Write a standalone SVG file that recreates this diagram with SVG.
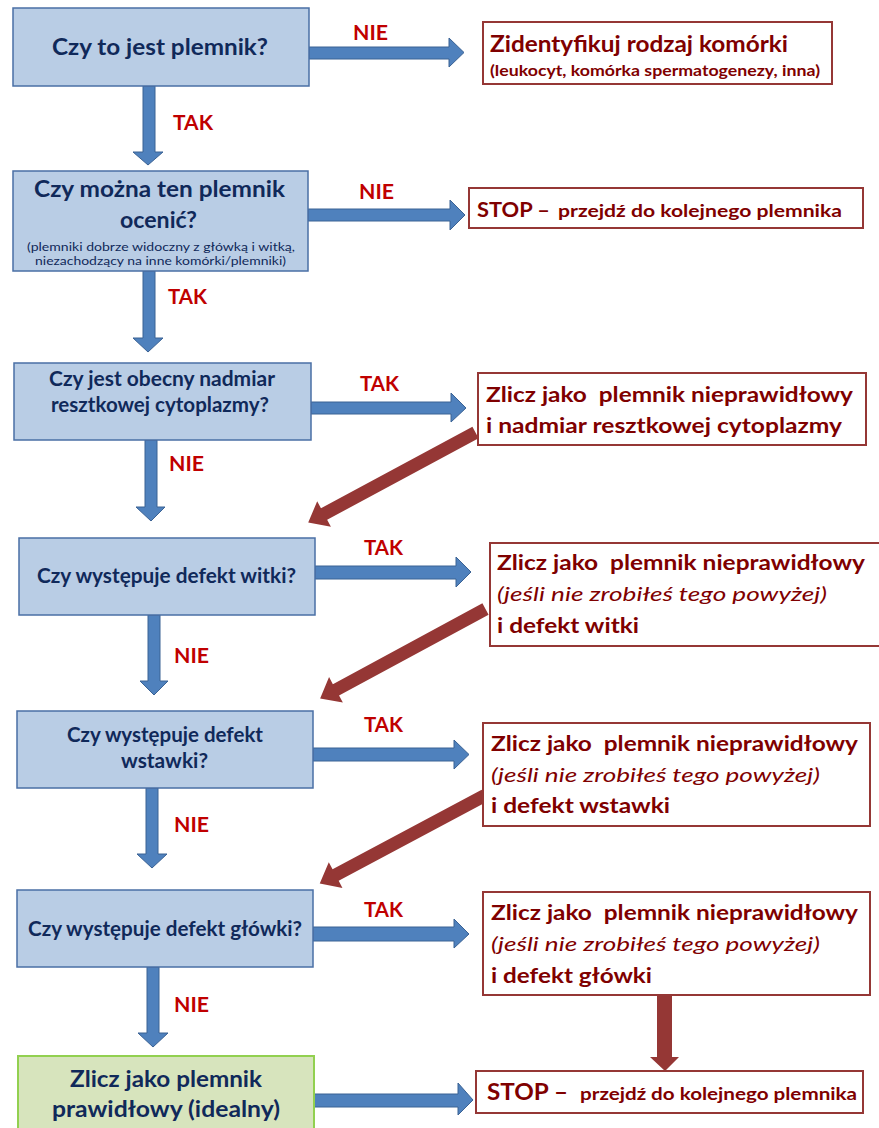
<svg xmlns="http://www.w3.org/2000/svg" width="879" height="1128" viewBox="0 0 879 1128">
  <style>
    .q { fill: #b9cde5; stroke: #4a6fa5; stroke-width: 1.5; }
    .ok { fill: #d7e4bd; stroke: #92d050; stroke-width: 2; }
    .act { fill: #ffffff; stroke: #953735; stroke-width: 2; }
    .qt { font-family: Lato, "Open Sans", sans-serif; font-weight: bold; fill: #10295a; }
    .qs { font-family: Lato, "Open Sans", sans-serif; font-size: 11.5px; fill: #10295a; }
    .at { font-family: Lato, "Open Sans", sans-serif; font-weight: bold; fill: #7f0000; font-size: 21px; white-space: pre; }
    .ai { font-family: Lato, "Open Sans", sans-serif; font-style: italic; fill: #7f0000; font-size: 20px; }
    .lb { font-family: Lato, "Open Sans", sans-serif; font-weight: bold; fill: #c00000; font-size: 21px; }
    .ba { fill: #4f81bd; stroke: #3a6294; stroke-width: 1; stroke-linejoin: miter; }
    .ra { fill: #953735; }
  </style>

  <!-- connectors -->
  <g id="connectors">
    <!-- vertical blue arrows (main path) -->
    <polygon class="ba" points="143,86 155,86 155,152 163,152 148,165 133,152 143,152"/>
    <polygon class="ba" points="143,271 155,271 155,338 163,338 148,352 133,338 143,338"/>
    <polygon class="ba" points="145,440 157,440 157,507 165,507 151,521 136,507 145,507"/>
    <polygon class="ba" points="148,615 160,615 160,681 168,681 154,695 140,681 148,681"/>
    <polygon class="ba" points="146,788 158,788 158,854 167,854 152,868 137,854 146,854"/>
    <polygon class="ba" points="147,967 159,967 159,1033 168,1033 153,1047 138,1033 147,1033"/>
    <!-- horizontal blue arrows (branches) -->
    <polygon class="ba" points="309,47 449,47 449,38 464,52.5 449,67 449,59 309,59"/>
    <polygon class="ba" points="308,209 450,209 450,200 465,215 450,230 450,221 308,221"/>
    <polygon class="ba" points="311,402 451,402 451,393 466,408 451,422 451,414 311,414"/>
    <polygon class="ba" points="315,566 456,566 456,557 471,572 456,587 456,579 315,579"/>
    <polygon class="ba" points="313,748 454,748 454,740 469,754.5 454,769 454,761 313,761"/>
    <polygon class="ba" points="313,927 454,927 454,919 469,934 454,948 454,941 313,941"/>
    <polygon class="ba" points="314,1094 458,1094 458,1083 473,1100 458,1115 458,1107 314,1107"/>
    <!-- diagonal red return arrows -->
    <path class="ra" transform="translate(475.5,432.5) rotate(151.7)" d="M0,-6.5 L172,-6.5 L172,-14.5 L190,0 L172,14.5 L172,6.5 L0,6.5 Z"/>
    <path class="ra" transform="translate(485.5,609) rotate(151.6)" d="M0,-6.5 L170,-6.5 L170,-14.5 L188,0 L170,14.5 L170,6.5 L0,6.5 Z"/>
    <path class="ra" transform="translate(484.7,795.5) rotate(151.9)" d="M0,-6.5 L169,-6.5 L169,-14.5 L187,0 L169,14.5 L169,6.5 L0,6.5 Z"/>
    <!-- vertical red arrow to STOP -->
    <polygon class="ra" points="657,996 672,996 672,1057 679,1057 665,1071 650,1057 657,1057"/>
  </g>

  <!-- branch labels -->
  <g id="labels">
    <text class="lb" x="353" y="40" textLength="35" lengthAdjust="spacingAndGlyphs">NIE</text>
    <text class="lb" x="173" y="130" textLength="40" lengthAdjust="spacingAndGlyphs">TAK</text>
    <text class="lb" x="359" y="199" textLength="35" lengthAdjust="spacingAndGlyphs">NIE</text>
    <text class="lb" x="168" y="304" textLength="39" lengthAdjust="spacingAndGlyphs">TAK</text>
    <text class="lb" x="360" y="391" textLength="39" lengthAdjust="spacingAndGlyphs">TAK</text>
    <text class="lb" x="169" y="471" textLength="35" lengthAdjust="spacingAndGlyphs">NIE</text>
    <text class="lb" x="364" y="555" textLength="39" lengthAdjust="spacingAndGlyphs">TAK</text>
    <text class="lb" x="174" y="663" textLength="35" lengthAdjust="spacingAndGlyphs">NIE</text>
    <text class="lb" x="364" y="732" textLength="39" lengthAdjust="spacingAndGlyphs">TAK</text>
    <text class="lb" x="174" y="832" textLength="35" lengthAdjust="spacingAndGlyphs">NIE</text>
    <text class="lb" x="364" y="917" textLength="39" lengthAdjust="spacingAndGlyphs">TAK</text>
    <text class="lb" x="174" y="1012" textLength="35" lengthAdjust="spacingAndGlyphs">NIE</text>
  </g>

  <!-- question nodes -->
  <g id="q-plemnik">
    <rect class="q" x="13" y="8" width="296" height="78"/>
    <text class="qt" x="52" y="55" font-size="22" textLength="216" lengthAdjust="spacingAndGlyphs">Czy to jest plemnik?</text>
  </g>
  <g id="q-ocenic">
    <rect class="q" x="13" y="171" width="295" height="100"/>
    <text class="qt" x="34" y="197" font-size="22" textLength="251" lengthAdjust="spacingAndGlyphs">Czy można ten plemnik</text>
    <text class="qt" x="120" y="228" font-size="22" textLength="77" lengthAdjust="spacingAndGlyphs">ocenić?</text>
    <text class="qs" x="27" y="251" textLength="268" lengthAdjust="spacingAndGlyphs">(plemniki dobrze widoczny z główką i witką,</text>
    <text class="qs" x="35" y="265" textLength="251" lengthAdjust="spacingAndGlyphs">niezachodzący na inne komórki/plemniki)</text>
  </g>
  <g id="q-cytoplazma">
    <rect class="q" x="14" y="363" width="297" height="77"/>
    <text class="qt" x="49" y="386" font-size="20" textLength="226" lengthAdjust="spacingAndGlyphs">Czy jest obecny nadmiar</text>
    <text class="qt" x="51" y="412" font-size="20" textLength="218" lengthAdjust="spacingAndGlyphs">resztkowej cytoplazmy?</text>
  </g>
  <g id="q-witka">
    <rect class="q" x="19" y="538" width="296" height="77"/>
    <text class="qt" x="37" y="583" font-size="20" textLength="259" lengthAdjust="spacingAndGlyphs">Czy występuje defekt witki?</text>
  </g>
  <g id="q-wstawka">
    <rect class="q" x="17" y="711" width="296" height="77"/>
    <text class="qt" x="67" y="742" font-size="20" textLength="196" lengthAdjust="spacingAndGlyphs">Czy występuje defekt</text>
    <text class="qt" x="121" y="768" font-size="20" textLength="87" lengthAdjust="spacingAndGlyphs">wstawki?</text>
  </g>
  <g id="q-glowka">
    <rect class="q" x="17" y="890" width="296" height="77"/>
    <text class="qt" x="28" y="936" font-size="20" textLength="274" lengthAdjust="spacingAndGlyphs">Czy występuje defekt główki?</text>
  </g>
  <g id="ok-prawidlowy">
    <rect class="ok" x="18" y="1056" width="296" height="80"/>
    <text class="qt" x="70" y="1087" font-size="22" textLength="192" lengthAdjust="spacingAndGlyphs">Zlicz jako plemnik</text>
    <text class="qt" x="52" y="1117" font-size="22" textLength="228" lengthAdjust="spacingAndGlyphs">prawidłowy (idealny)</text>
  </g>

  <!-- action nodes -->
  <g id="a-identyfikuj">
    <rect class="act" x="483" y="22" width="349" height="62"/>
    <text class="at" x="490" y="52" style="font-size:22px" textLength="298" lengthAdjust="spacingAndGlyphs">Zidentyfikuj rodzaj komórki</text>
    <text class="at" x="490" y="76" style="font-size:15px" textLength="330" lengthAdjust="spacingAndGlyphs">(leukocyt, komórka spermatogenezy, inna)</text>
  </g>
  <g id="a-stop1">
    <rect class="act" x="469" y="188" width="394" height="40"/>
    <text class="at" x="477" y="217" textLength="73" lengthAdjust="spacingAndGlyphs">STOP –</text>
    <text class="at" x="558" y="217" style="font-size:17px" textLength="284" lengthAdjust="spacingAndGlyphs">przejdź do kolejnego plemnika</text>
  </g>
  <g id="a-cytoplazma">
    <rect class="act" x="478" y="373" width="388" height="72"/>
    <text class="at" x="486" y="402" textLength="367" lengthAdjust="spacingAndGlyphs">Zlicz jako  plemnik nieprawidłowy</text>
    <text class="at" x="486" y="433" textLength="356" lengthAdjust="spacingAndGlyphs">i nadmiar resztkowej cytoplazmy</text>
  </g>
  <g id="a-witka">
    <rect class="act" x="490" y="543" width="392" height="103"/>
    <text class="at" x="497" y="570" textLength="368" lengthAdjust="spacingAndGlyphs">Zlicz jako  plemnik nieprawidłowy</text>
    <text class="ai" x="497" y="601" textLength="330" lengthAdjust="spacingAndGlyphs">(jeśli nie zrobiłeś tego powyżej)</text>
    <text class="at" x="497" y="633" textLength="142" lengthAdjust="spacingAndGlyphs">i defekt witki</text>
  </g>
  <g id="a-wstawka">
    <rect class="act" x="483" y="723" width="387" height="103"/>
    <text class="at" x="491" y="751" textLength="367" lengthAdjust="spacingAndGlyphs">Zlicz jako  plemnik nieprawidłowy</text>
    <text class="ai" x="491" y="782" textLength="329" lengthAdjust="spacingAndGlyphs">(jeśli nie zrobiłeś tego powyżej)</text>
    <text class="at" x="491" y="813" textLength="179" lengthAdjust="spacingAndGlyphs">i defekt wstawki</text>
  </g>
  <g id="a-glowka">
    <rect class="act" x="483" y="892" width="387" height="103"/>
    <text class="at" x="491" y="920" textLength="367" lengthAdjust="spacingAndGlyphs">Zlicz jako  plemnik nieprawidłowy</text>
    <text class="ai" x="491" y="951" textLength="329" lengthAdjust="spacingAndGlyphs">(jeśli nie zrobiłeś tego powyżej)</text>
    <text class="at" x="491" y="983" textLength="161" lengthAdjust="spacingAndGlyphs">i defekt główki</text>
  </g>
  <g id="a-stop2">
    <rect class="act" x="476" y="1071" width="387" height="42"/>
    <text class="at" x="487" y="1100" style="font-size:22px" textLength="81" lengthAdjust="spacingAndGlyphs">STOP –</text>
    <text class="at" x="580" y="1100" style="font-size:17px" textLength="277" lengthAdjust="spacingAndGlyphs">przejdź do kolejnego plemnika</text>
  </g>
</svg>
